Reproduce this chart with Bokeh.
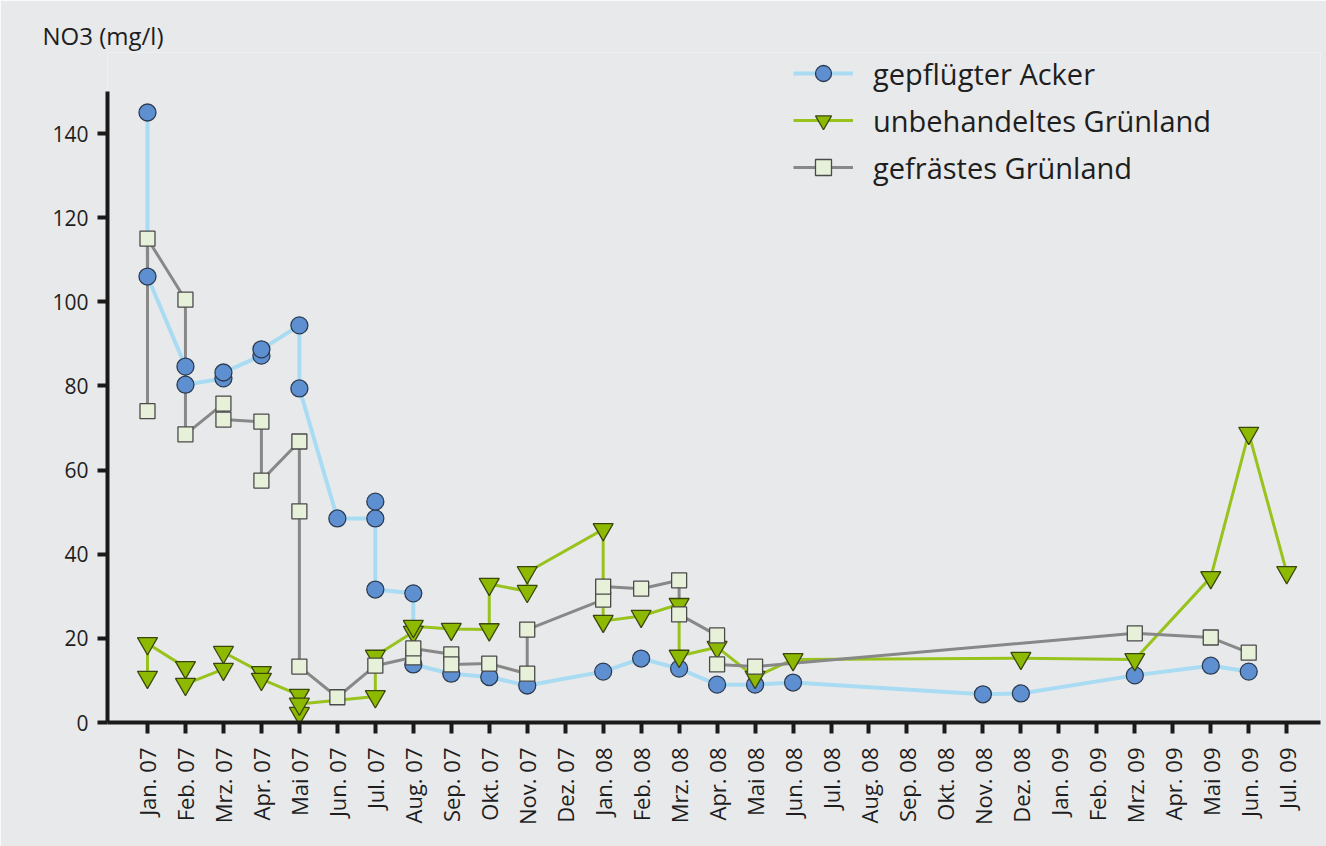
from bokeh.plotting import figure
from bokeh.models import Range1d, FixedTicker, Legend, LegendItem, Title
from bokeh.embed import file_html
from bokeh.resources import INLINE
import math

months = ["Jan. 07", "Feb. 07", "Mrz. 07", "Apr. 07", "Mai 07", "Jun. 07", "Jul. 07",
          "Aug. 07", "Sep. 07", "Okt. 07", "Nov. 07", "Dez. 07", "Jan. 08", "Feb. 08",
          "Mrz. 08", "Apr. 08", "Mai 08", "Jun. 08", "Jul. 08", "Aug. 08", "Sep. 08",
          "Okt. 08", "Nov. 08", "Dez. 08", "Jan. 09", "Feb. 09", "Mrz. 09", "Apr. 09",
          "Mai 09", "Jun. 09", "Jul. 09"]

# gepflügter Acker
acker_month = ["Jan. 07", "Jan. 07", "Feb. 07", "Feb. 07", "Mrz. 07", "Mrz. 07", "Apr. 07",
               "Apr. 07", "Mai 07", "Mai 07", "Jun. 07", "Jul. 07", "Jul. 07", "Jul. 07",
               "Aug. 07", "Aug. 07", "Sep. 07", "Okt. 07", "Nov. 07", "Jan. 08", "Feb. 08",
               "Mrz. 08", "Apr. 08", "Mai 08", "Jun. 08", "Nov. 08", "Dez. 08", "Mrz. 09",
               "Mai 09", "Jun. 09"]
acker_val = [145.0, 106.0, 84.6, 80.3, 81.8, 83.2, 87.2,
             88.7, 94.4, 79.4, 48.5, 48.5, 52.5, 31.6,
             30.7, 13.8, 11.6, 10.8, 8.8, 12.1, 15.2,
             12.8, 9.0, 9.0, 9.5, 6.7, 6.9, 11.2,
             13.5, 12.1]

# unbehandeltes Grünland
unbeh_month = ["Jan. 07", "Jan. 07", "Feb. 07", "Feb. 07", "Mrz. 07", "Mrz. 07", "Apr. 07",
               "Apr. 07", "Mai 07", "Mai 07", "Mai 07", "Jul. 07", "Jul. 07", "Aug. 07",
               "Aug. 07", "Sep. 07", "Okt. 07", "Okt. 07", "Nov. 07", "Nov. 07", "Jan. 08",
               "Jan. 08", "Feb. 08", "Mrz. 08", "Mrz. 08", "Apr. 08", "Mai 08", "Jun. 08",
               "Dez. 08", "Mrz. 09", "Mai 09", "Jun. 09", "Jul. 09"]
unbeh_val = [10.8, 18.8, 13.1, 9.1, 12.7, 16.7, 11.9,
             10.3, 6.5, 2.2, 4.4, 6.2, 15.8, 21.5,
             22.9, 22.2, 22.1, 32.9, 31.2, 35.7, 45.9,
             24.1, 25.3, 28.1, 15.8, 17.9, 10.8, 15.0,
             15.3, 15.0, 34.5, 68.8, 35.7]

# gefrästes Grünland
gefr_month = ["Jan. 07", "Jan. 07", "Feb. 07", "Feb. 07", "Mrz. 07", "Mrz. 07", "Apr. 07",
              "Apr. 07", "Mai 07", "Mai 07", "Mai 07", "Jun. 07", "Jul. 07", "Aug. 07",
              "Aug. 07", "Sep. 07", "Sep. 07", "Okt. 07", "Nov. 07", "Nov. 07", "Jan. 08",
              "Jan. 08", "Feb. 08", "Mrz. 08", "Mrz. 08", "Apr. 08", "Apr. 08", "Mai 08",
              "Mrz. 09", "Mai 09", "Jun. 09"]
gefr_val = [74.0, 115.0, 100.5, 68.5, 75.8, 72.0, 71.5,
            57.5, 66.8, 50.2, 13.3, 6.0, 13.5, 15.5,
            17.6, 16.2, 13.8, 14.0, 11.6, 22.1, 29.2,
            32.3, 31.8, 33.8, 25.7, 20.7, 13.8, 13.3,
            21.2, 20.2, 16.6]

y_ticks = [0, 20, 40, 60, 80, 100, 120, 140]

BG = "#E8E9EB"
TXT = "#1E1E1E"
FONT = "Open Sans"


def idx(names):
    return [months.index(n) for n in names]


p = figure(width=1326, height=846, output_backend="svg", toolbar_location=None,
           x_range=Range1d(-1.053, 30.89), y_range=Range1d(0, 159.26),
           min_border_left=107, min_border_right=6, min_border_top=52, min_border_bottom=124,
           background_fill_color=BG, border_fill_color=BG, outline_line_color=None)

p.xgrid.visible = False
p.ygrid.visible = False

# axes
for ax in (p.xaxis[0], p.yaxis[0]):
    ax.axis_line_color = "#1A1A1A"
    ax.axis_line_width = 4
    ax.major_tick_line_color = "#1A1A1A"
    ax.major_tick_line_width = 4
    ax.major_tick_in = 0
    ax.minor_tick_line_color = None
    ax.major_label_text_font = FONT
    ax.major_label_text_color = TXT

p.xaxis.ticker = FixedTicker(ticks=list(range(len(months))))
p.xaxis.major_label_overrides = {i: m for i, m in enumerate(months)}
p.xaxis.major_label_orientation = math.pi / 2
p.xaxis.major_tick_out = 11
p.xaxis.major_label_standoff = 14
p.xaxis.major_label_text_font_size = "22px"

p.yaxis.ticker = FixedTicker(ticks=y_ticks)
p.yaxis.bounds = (0, 150)
p.yaxis.major_tick_out = 10
p.yaxis.major_label_standoff = 9
p.yaxis.major_label_text_font_size = "21px"

# lines
l_acker = p.line(idx(acker_month), acker_val, line_color="#A9DCF3", line_width=4)
l_unbeh = p.line(idx(unbeh_month), unbeh_val, line_color="#98C21C", line_width=3)
l_gefr = p.line(idx(gefr_month), gefr_val, line_color="#888888", line_width=3)

# markers
m_acker = p.scatter(idx(acker_month), acker_val, marker="circle", size=17,
                    fill_color="#5E8FD1", line_color="#2C3B50", line_width=1.3)
m_unbeh = p.scatter(idx(unbeh_month), unbeh_val, marker="inverted_triangle", size=20,
                    fill_color="#8DBA00", line_color="#3A470C", line_width=1.3)
m_gefr = p.scatter(idx(gefr_month), gefr_val, marker="square", size=15,
                   fill_color="#E7F1D9", line_color="#4A4A4A", line_width=1.3)

legend = Legend(items=[
    LegendItem(label="gepflügter Acker", renderers=[l_acker, m_acker]),
    LegendItem(label="unbehandeltes Grünland", renderers=[l_unbeh, m_unbeh]),
    LegendItem(label="gefrästes Grünland", renderers=[l_gefr, m_gefr]),
], location=(686, 535), glyph_width=60, glyph_height=40, label_height=40, spacing=7,
    padding=0, margin=0, label_standoff=20, label_text_font=FONT,
    label_text_font_size="29px", label_text_color=TXT,
    background_fill_alpha=0, border_line_alpha=0)
p.add_layout(legend)

p.add_layout(Title(text="NO3 (mg/l)", align="left", offset=-65, standoff=2,
                   text_font=FONT, text_font_size="24px", text_font_style="normal",
                   text_color=TXT), "above")

open("out.html", "w").write(file_html(p, INLINE))
